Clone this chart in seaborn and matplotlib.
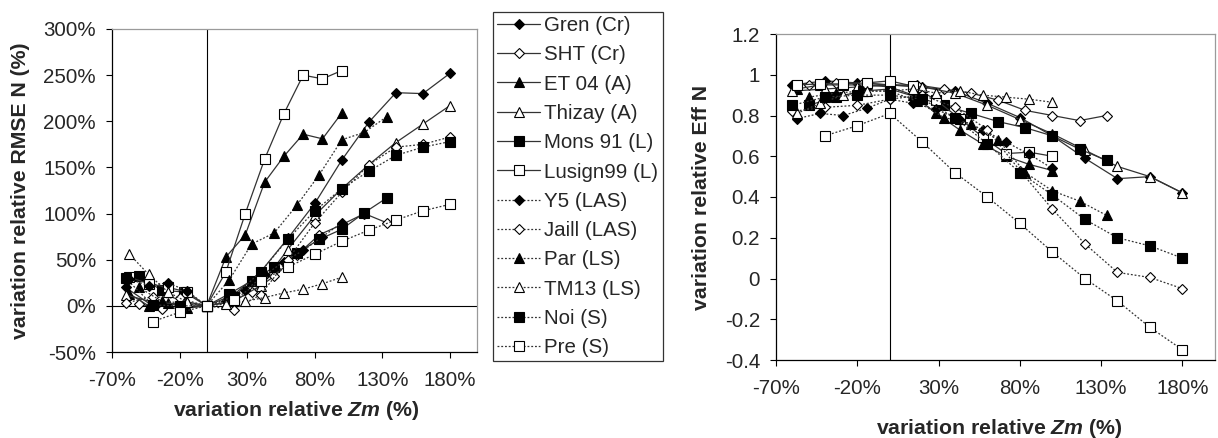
import seaborn as sns
import matplotlib.pyplot as plt
from matplotlib.ticker import FuncFormatter

# x grids (relative variation of Zm, %)
x_20 = [-60, -40, -20, 0, 20, 40, 60, 80, 100, 120, 140, 160, 180]
x_pre = [-40, -20, 0, 20, 40, 60, 80, 100, 120, 140, 160, 180]
x_7 = [-57.1, -42.9, -28.6, -14.3, 0, 14.3, 28.6, 42.9, 57.1, 71.4, 85.7, 100]
x_6 = [-50, -33.3, -16.7, 0, 16.7, 33.3, 50, 66.7, 83.3, 100, 116.7, 133.3]

# left panel: relative variation of RMSE N (%)
rmse_gren = [20, 0, -3, 0, 12, 37, 73, 111, 158, 199, 231, 230, 252]
rmse_sht = [2, -3, 5, 0, 4, 15, 32, 55, 77, 88, 100, 90]
rmse_et04 = [13, 0, 3, -2, 0, 53, 77, 134, 162, 186, 181, 209]
rmse_thizay = [12, 4, 2, 0, 5, 22, 61, 98, 127, 153, 177, 197, 217]
rmse_mons = [32, 17, 15, 0, 13, 27, 42, 57, 72, 83, 101, 117]
rmse_lusign = [31, 24, 20, 15, 0, 37, 100, 159, 208, 250, 246, 255]
rmse_y5 = [29, 22, 25, 16, 0, 5, 17, 33, 48, 60, 75, 90]
rmse_jaill = [3, 10, 8, 0, -4, 12, 50, 90, 123, 153, 172, 175, 183]
rmse_par = [20, 5, 3, 0, 28, 67, 79, 109, 142, 180, 188, 205]
rmse_tm13 = [56, 34, 15, 4, 0, 2, 5, 9, 14, 18, 24, 31]
rmse_noi = [30, 1, 0, 0, 10, 37, 72, 103, 127, 146, 163, 172, 178]
rmse_pre = [-17, -7, 0, 6, 27, 42, 56, 70, 82, 93, 103, 110]

# right panel: Eff N
eff_gren = [0.95, 0.97, 0.96, 0.95, 0.94, 0.92, 0.86, 0.79, 0.70, 0.59, 0.49, 0.50, 0.42]
eff_sht = [0.95, 0.96, 0.96, 0.95, 0.95, 0.93, 0.91, 0.875, 0.825, 0.80, 0.775, 0.80]
eff_et04 = [0.93, 0.95, 0.95, 0.95, 0.94, 0.90, 0.81, 0.73, 0.66, 0.60, 0.56, 0.53]
eff_thizay = [0.92, 0.93, 0.94, 0.95, 0.94, 0.91, 0.85, 0.78, 0.71, 0.63, 0.55, 0.50, 0.42]
eff_mons = [0.85, 0.89, 0.92, 0.93, 0.89, 0.85, 0.81, 0.77, 0.74, 0.70, 0.635, 0.58]
eff_lusign = [0.95, 0.955, 0.955, 0.96, 0.97, 0.944, 0.875, 0.785, 0.695, 0.613, 0.62, 0.60]
eff_y5 = [0.785, 0.81, 0.80, 0.835, 0.88, 0.86, 0.83, 0.78, 0.73, 0.67, 0.61, 0.54]
eff_jaill = [0.82, 0.84, 0.85, 0.88, 0.90, 0.84, 0.73, 0.53, 0.34, 0.17, 0.03, 0.005, -0.05]
eff_par = [0.89, 0.91, 0.92, 0.92, 0.87, 0.79, 0.76, 0.68, 0.52, 0.43, 0.38, 0.31]
eff_tm13 = [0.81, 0.86, 0.90, 0.92, 0.92, 0.93, 0.91, 0.92, 0.90, 0.89, 0.88, 0.865]
eff_noi = [0.85, 0.89, 0.90, 0.90, 0.88, 0.79, 0.66, 0.52, 0.41, 0.29, 0.20, 0.16, 0.10]
eff_pre = [0.70, 0.75, 0.81, 0.67, 0.52, 0.40, 0.27, 0.13, 0.00, -0.11, -0.24, -0.35]

names = ["Gren (Cr)", "SHT (Cr)", "ET 04 (A)", "Thizay (A)", "Mons 91 (L)", "Lusign99 (L)",
         "Y5 (LAS)", "Jaill (LAS)", "Par (LS)", "TM13 (LS)", "Noi (S)", "Pre (S)"]
xs = [x_20, x_6, x_7, x_20, x_6, x_7, x_7, x_20, x_6, x_7, x_20, x_pre]
rmse = [rmse_gren, rmse_sht, rmse_et04, rmse_thizay, rmse_mons, rmse_lusign,
        rmse_y5, rmse_jaill, rmse_par, rmse_tm13, rmse_noi, rmse_pre]
eff = [eff_gren, eff_sht, eff_et04, eff_thizay, eff_mons, eff_lusign,
       eff_y5, eff_jaill, eff_par, eff_tm13, eff_noi, eff_pre]
markers = ["D", "D", "^", "^", "s", "s"] * 2
filled = [True, False] * 6
msizes = {"D": 5, "^": 7, "s": 6.5}

sns.set_theme(style="white")
plt.rcParams["font.family"] = ["Liberation Sans", "DejaVu Sans"]
plt.rcParams["mathtext.fontset"] = "custom"
plt.rcParams["mathtext.bfit"] = "Liberation Sans:bold:italic"
plt.rcParams["mathtext.it"] = "Liberation Sans:italic"

fs = 14.8

fig = plt.figure(figsize=(12.18, 4.38), dpi=100)
ax1 = fig.add_axes([112 / 1218, 1 - 352 / 438, 365 / 1218, 323 / 438])
ax2 = fig.add_axes([776 / 1218, 1 - 360 / 438, 439 / 1218, 326 / 438])

for i, name in enumerate(names):
    ls = "-" if i < 6 else (0, (1.5, 1.5))
    fc = "black" if filled[i] else "white"
    style = dict(color="#333333", linestyle=ls, linewidth=0.9, marker=markers[i],
                 markersize=msizes[markers[i]], markerfacecolor=fc,
                 markeredgecolor="black", markeredgewidth=0.8)
    sns.lineplot(x=xs[i], y=rmse[i], ax=ax1, label=name, **style)
    sns.lineplot(x=xs[i], y=eff[i], ax=ax2, **style)

for ax in (ax1, ax2):
    if ax.get_legend() is not None:
        ax.get_legend().remove()
    ax.set_xlim(-70, 200)
    ax.set_xticks([-70, -20, 30, 80, 130, 180])
    ax.xaxis.set_major_formatter(FuncFormatter(lambda v, p: f"{v:.0f}%"))
    ax.axvline(0, color="black", linewidth=0.8, zorder=1)
    for s in ("left", "bottom"):
        ax.spines[s].set_color("black")
        ax.spines[s].set_linewidth(0.9)
    for s in ("top", "right"):
        ax.spines[s].set_color("#9a9a9a")
        ax.spines[s].set_linewidth(0.9)
    ax.tick_params(direction="out", length=4.5, width=0.8, color="black",
                   labelsize=fs, left=True, bottom=True)
    ax.tick_params(axis="x", pad=9)
    ax.tick_params(axis="y", pad=7)
    ax.set_xlabel("variation relative $\\mathbfit{Zm}$ (%)", fontsize=fs + 0.5,
                  fontweight="bold")
    ax.xaxis.label.set_va("center")
    ax.yaxis.label.set_va("center")

ax1.set_ylim(-50, 300)
ax1.set_yticks(range(-50, 301, 50))
ax1.yaxis.set_major_formatter(FuncFormatter(lambda v, p: f"{v:.0f}%"))
ax1.axhline(0, color="black", linewidth=0.8, zorder=1)
ax1.set_ylabel("variation relative RMSE N (%)", fontsize=fs + 0.5, fontweight="bold")
ax1.xaxis.set_label_coords(0.504, -0.18)
ax1.yaxis.set_label_coords(-0.252, 0.5)

ax2.set_ylim(-0.4, 1.2)
ax2.set_yticks([-0.4, -0.2, 0, 0.2, 0.4, 0.6, 0.8, 1.0, 1.2])
ax2.yaxis.set_major_formatter(FuncFormatter(lambda v, p: f"{round(v, 1) + 0:g}"))
ax2.set_ylabel("variation relative Eff N", fontsize=fs + 0.5, fontweight="bold")
ax2.xaxis.set_label_coords(0.508, -0.209)
ax2.yaxis.set_label_coords(-0.169, 0.5)

handles, labels = ax1.get_legend_handles_labels()
leg = fig.legend(handles, labels, loc="upper left",
                 bbox_to_anchor=(493 / 1218, 1 - 12 / 438), fontsize=fs,
                 frameon=True, fancybox=False, edgecolor="black",
                 handlelength=2.1, handletextpad=0.2, labelspacing=0.5,
                 borderpad=0.2, borderaxespad=0)
leg.get_frame().set_linewidth(0.9)

fig.savefig("out.png", dpi=100)
